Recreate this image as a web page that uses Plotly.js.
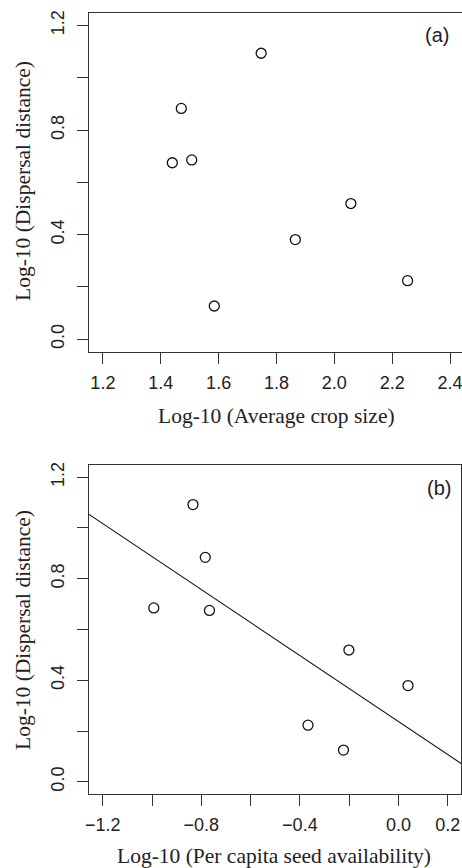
<!DOCTYPE html>
<html>
<head>
<meta charset="utf-8">
<script src="https://cdn.plot.ly/plotly-3.0.1.min.js"></script>
<style>
  html, body { margin: 0; padding: 0; background: #fff; overflow: hidden; }
  #chart { width: 466px; height: 868px; }
</style>
</head>
<body>
<div id="chart"></div>
<script>
// Panel (a): dispersal distance vs average crop size (log10)
const cropSize = [1.44, 1.471, 1.507, 1.585, 1.747, 1.865, 2.057, 2.253];
const dispersalA = [0.675, 0.883, 0.686, 0.127, 1.094, 0.381, 0.519, 0.224];

// Panel (b): dispersal distance vs per capita seed availability (log10)
const seedAvail = [-0.993, -0.834, -0.784, -0.767, -0.367, -0.223, -0.201, 0.039];
const dispersalB = [0.685, 1.092, 0.884, 0.675, 0.223, 0.125, 0.519, 0.379];

// Axis ticks
const xTicksA = [1.2, 1.4, 1.6, 1.8, 2.0, 2.2, 2.4];
const xTickTextA = ['1.2', '1.4', '1.6', '1.8', '2.0', '2.2', '2.4'];
const xTicksB = [-1.2, -1.0, -0.8, -0.6, -0.4, -0.2, 0.0, 0.2];
const xTickTextB = ['\u22121.2', '', '\u22120.8', '', '\u22120.4', '', '0.0', '0.2'];
const yTicks = [0.0, 0.2, 0.4, 0.6, 0.8, 1.0, 1.2];
const yTickText = ['0.0', '', '0.4', '', '0.8', '', '1.2'];

const xRangeA = [1.152, 2.448];
const xRangeB = [-1.256, 0.256];
const yRange = [-0.048, 1.248];

// least-squares fit for panel (b)
function ols(x, y) {
  const n = x.length;
  const mx = x.reduce((a, b) => a + b, 0) / n;
  const my = y.reduce((a, b) => a + b, 0) / n;
  let sxy = 0, sxx = 0;
  for (let i = 0; i < n; i++) { sxy += (x[i] - mx) * (y[i] - my); sxx += (x[i] - mx) ** 2; }
  const b = sxy / sxx;
  return { a: my - b * mx, b: b };
}
const fit = ols(seedAvail, dispersalB);
const fitX = xRangeB.slice();
const fitY = fitX.map(v => fit.a + fit.b * v);

const marker = { symbol: 'circle-open', size: 10, color: '#111', line: { width: 1.3, color: '#111' } };

const traces = [
  { x: cropSize, y: dispersalA, type: 'scatter', mode: 'markers', marker: marker, xaxis: 'x', yaxis: 'y' },
  { x: seedAvail, y: dispersalB, type: 'scatter', mode: 'markers', marker: marker, xaxis: 'x2', yaxis: 'y2' },
  { x: fitX, y: fitY, type: 'scatter', mode: 'lines', line: { color: '#111', width: 1.1 }, xaxis: 'x2', yaxis: 'y2' }
];

const tickFont = { family: 'Liberation Sans, Arial, sans-serif', size: 18, color: '#222' };
const titleFont = { family: 'Liberation Serif, Times New Roman, serif', size: 21.5, color: '#222' };
const panelFont = { family: 'Liberation Sans, Arial, sans-serif', size: 20, color: '#222' };

const axBase = {
  showline: true, mirror: true, linecolor: '#333', linewidth: 1.3,
  ticks: 'outside', ticklen: 11, tickwidth: 1, tickcolor: '#333',
  showgrid: false, zeroline: false, tickmode: 'array', tickfont: tickFont,
  fixedrange: true
};

const layout = {
  width: 466, height: 868,
  margin: { l: 89, r: 0, t: 13, b: 74 },
  paper_bgcolor: '#fff', plot_bgcolor: '#fff',
  showlegend: false,
  xaxis: Object.assign({}, axBase, { domain: [0, 0.9947], range: xRangeA, tickvals: xTicksA, ticktext: xTickTextA, anchor: 'y', ticklabelstandoff: 3 }),
  yaxis: Object.assign({}, axBase, { domain: [0.5663, 1], range: yRange, tickvals: yTicks, ticktext: yTickText, tickangle: -90, anchor: 'x', ticklabelstandoff: 6 }),
  xaxis2: Object.assign({}, axBase, { domain: [0, 0.988], range: xRangeB, tickvals: xTicksB, ticktext: xTickTextB, anchor: 'y2', ticklabelstandoff: 3 }),
  yaxis2: Object.assign({}, axBase, { domain: [0, 0.4213], range: yRange, tickvals: yTicks, ticktext: yTickText, tickangle: -90, anchor: 'x2', ticklabelstandoff: 6 }),
  annotations: [
    { text: '(a)', xref: 'paper', yref: 'paper', x: (437 - 89) / 377, y: (794 - 35) / 781, xanchor: 'center', yanchor: 'middle', showarrow: false, font: panelFont },
    { text: '(b)', xref: 'paper', yref: 'paper', x: (439 - 89) / 377, y: (794 - 488) / 781, xanchor: 'center', yanchor: 'middle', showarrow: false, font: panelFont },
    { text: 'Log-10 (Average crop size)', xref: 'paper', yref: 'paper', x: (276 - 89) / 377, y: (794 - 416) / 781, xanchor: 'center', yanchor: 'middle', showarrow: false, font: titleFont },
    { text: 'Log-10 (Per capita seed availability)', xref: 'paper', yref: 'paper', x: (274 - 89) / 377, y: (794 - 856) / 781, xanchor: 'center', yanchor: 'middle', showarrow: false, font: titleFont },
    { text: 'Log-10 (Dispersal distance)', xref: 'paper', yref: 'paper', x: (23 - 89) / 377, y: (794 - 181) / 781, xanchor: 'center', yanchor: 'middle', textangle: -90, showarrow: false, font: titleFont },
    { text: 'Log-10 (Dispersal distance)', xref: 'paper', yref: 'paper', x: (23 - 89) / 377, y: (794 - 630) / 781, xanchor: 'center', yanchor: 'middle', textangle: -90, showarrow: false, font: titleFont }
  ]
};

Plotly.newPlot('chart', traces, layout, { displayModeBar: false, staticPlot: true });
</script>
</body>
</html>
